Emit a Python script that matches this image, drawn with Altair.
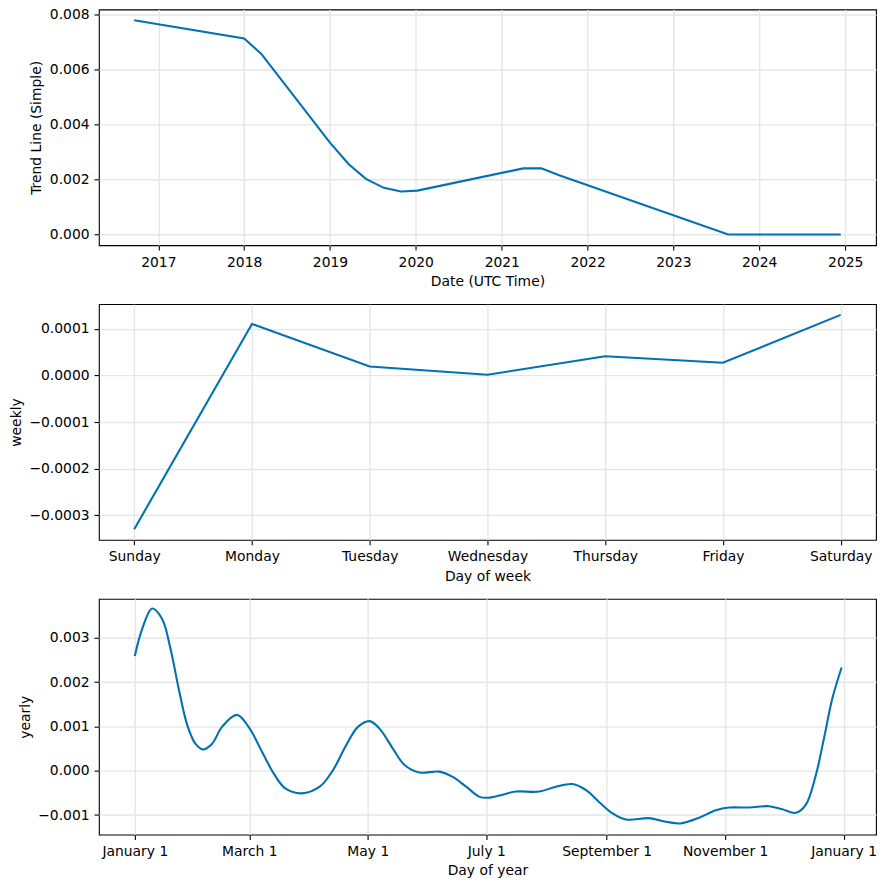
import altair as alt
import pandas as pd

# ---------- data ----------
trend_dates = ["2016-09-20", "2018-01-01", "2018-03-15", "2019-01-01", "2019-03-22",
               "2019-06-03", "2019-08-18", "2019-10-30", "2020-01-08", "2021-04-02",
               "2021-06-18", "2021-09-02", "2023-08-22", "2024-12-13"]
trend_values = [0.00781, 0.00714, 0.00658, 0.00335, 0.00256,
                0.00203, 0.00170, 0.00157, 0.00160, 0.00241,
                0.00241, 0.00216, 0.00000, 0.00000]
trend_years = [2017, 2018, 2019, 2020, 2021, 2022, 2023, 2024, 2025]
trend_yticks = [0.000, 0.002, 0.004, 0.006, 0.008]

week_days = ["Sunday", "Monday", "Tuesday", "Wednesday", "Thursday", "Friday", "Saturday"]
week_values = [-0.000330, 0.0001105, 0.0000192, 0.0000014, 0.0000413, 0.0000271, 0.000130]
week_yticks = [-0.0003, -0.0002, -0.0001, 0.0, 0.0001]

year_days = [0, 3.8, 8.9, 14, 18.4, 22.6, 27, 31.2, 35.1, 39.8, 44.9, 52.6, 58.6, 65.5,
             71.5, 77.5, 86, 95.2, 102, 108.9, 114.9, 120.9, 126, 132.9, 138.9, 146.6,
             156.9, 163.7, 170.6, 177.5, 181.5, 187.8, 196.3, 208.3, 216.9, 225.5, 232.4,
             239.2, 246, 252.9, 264.9, 273.5, 281, 290.6, 299.2, 306.1, 316.4, 326.6,
             333.5, 340.4, 345.5, 350.7, 354.9, 359.2, 364]
year_values = [0.00259, 0.00320, 0.00366, 0.00343, 0.00275, 0.00185, 0.00103, 0.00061,
               0.00048, 0.00061, 0.00099, 0.00126, 0.00099, 0.00043, -0.00006, -0.00040,
               -0.00051, -0.00036, 0.00001, 0.00058, 0.00099, 0.00112, 0.00095, 0.00050,
               0.00013, -0.00004, -0.00002, -0.00014, -0.00036, -0.00059, -0.00061,
               -0.00056, -0.00047, -0.00047, -0.00036, -0.00030, -0.00044, -0.00071,
               -0.00096, -0.00110, -0.00107, -0.00115, -0.00119, -0.00106, -0.00089,
               -0.00083, -0.00083, -0.00080, -0.00087, -0.00095, -0.00077, -0.00010,
               0.00073, 0.00163, 0.00233]
month_labels = ["January 1", "March 1", "May 1", "July 1", "September 1", "November 1", "January 1"]
month_days = [0, 59, 120, 181, 243, 304, 365]
year_yticks = [-0.001, 0.0, 0.001, 0.002, 0.003]

LINE = "#0072B2"
W, H = 778, 236

trend_df = pd.DataFrame({"ds": trend_dates, "trend": trend_values})
week_df = pd.DataFrame({"day": list(range(len(week_days))), "weekly": week_values})
year_df = pd.DataFrame({"day": year_days, "yearly": year_values})

trend = alt.Chart(trend_df).mark_line(color=LINE, strokeWidth=2.1).encode(
    x=alt.X("ds:T", title="Date (UTC Time)",
            scale=alt.Scale(type="utc",
                            domain=[alt.DateTime(year=2016, month=4, date=23, utc=True),
                                    alt.DateTime(year=2025, month=5, date=12, utc=True)]),
            axis=alt.Axis(values=[alt.DateTime(year=y, month=1, date=1, utc=True) for y in trend_years],
                          format="%Y", formatType="utc")),
    y=alt.Y("trend:Q", title="Trend Line (Simple)",
            scale=alt.Scale(domain=[-0.00039, 0.00820], nice=False, zero=False),
            axis=alt.Axis(values=trend_yticks, format=".3f")),
).properties(width=W, height=H)

label_expr = "[" + ",".join("'%s'" % d for d in week_days) + "][datum.value]"
weekly = alt.Chart(week_df).mark_line(color=LINE, strokeWidth=2.1).encode(
    x=alt.X("day:Q", title="Day of week",
            scale=alt.Scale(domain=[-0.3, 6.3], nice=False, zero=False),
            axis=alt.Axis(values=list(range(len(week_days))), labelExpr=label_expr)),
    y=alt.Y("weekly:Q", title="weekly",
            scale=alt.Scale(domain=[-0.000353, 0.000153], nice=False, zero=False),
            axis=alt.Axis(values=week_yticks, format=".4f")),
).properties(width=W, height=H)

month_expr = "{" + ",".join("'%d':'%s'" % (d, l) for d, l in zip(month_days, month_labels)) + "}[''+datum.value]"
yearly = alt.Chart(year_df).mark_line(color=LINE, strokeWidth=2.1, interpolate="catmull-rom").encode(
    x=alt.X("day:Q", title="Day of year",
            scale=alt.Scale(domain=[-18.5, 381.7], nice=False, zero=False),
            axis=alt.Axis(values=month_days, labelExpr=month_expr)),
    y=alt.Y("yearly:Q", title="yearly",
            scale=alt.Scale(domain=[-0.00144, 0.00388], nice=False, zero=False),
            axis=alt.Axis(values=year_yticks, format=".3f")),
).properties(width=W, height=H)

chart = alt.vconcat(trend, weekly, yearly, spacing=14).properties(
    padding={"left": 0, "top": -2, "right": 0, "bottom": 0}, background="white",
).configure_view(stroke="black", strokeWidth=1.1).configure_axis(
    labelFont="DejaVu Sans", labelFontSize=13.9, labelColor="black", labelPadding=4.9,
    titleFont="DejaVu Sans", titleFontSize=13.9, titleFontWeight="normal", titleColor="black",
    titlePadding=5.6, domain=False, tickColor="black", tickSize=4.9, tickWidth=1.1,
    gridColor="#e6e6e6", gridWidth=1.4, gridOpacity=1,
)

chart.save("out.html", embed_options={"renderer": "svg", "actions": False})
